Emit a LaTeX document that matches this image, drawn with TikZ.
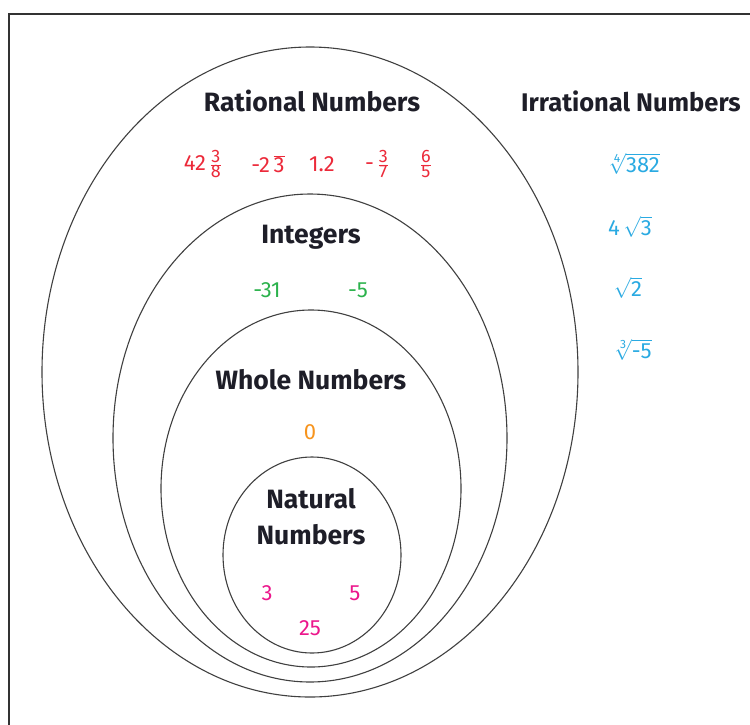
\documentclass[tikz,border=0pt]{standalone}
\usepackage{fontspec}
\setmainfont{Fira Sans}
\definecolor{redn}{HTML}{EC2A3A}
\definecolor{greenn}{HTML}{2BB24C}
\definecolor{orangen}{HTML}{F7941D}
\definecolor{pinkn}{HTML}{EC178C}
\definecolor{bluen}{HTML}{2AAAE2}
\definecolor{ink}{HTML}{1E1E28}
\newcommand{\fr}[2]{$\frac{\mbox{\fontsize{18pt}{18pt}\selectfont #1}}{\mbox{\fontsize{18pt}{18pt}\selectfont #2}}$}
\newcommand{\mb}[1]{\mbox{#1}}
\newcommand{\ix}[1]{\mbox{\fontsize{12pt}{12pt}\selectfont #1}}
\begin{document}
\begin{tikzpicture}[x=1pt,y=-1pt,
  setline/.style={draw=black!75, line width=1.1pt},
  title/.style={font=\fontsize{26.5pt}{28pt}\selectfont\bfseries, text=ink, inner sep=0pt},
  num/.style={font=\fontsize{22pt}{24pt}\selectfont, inner sep=0pt}]
\useasboundingbox (0,0) rectangle (750,724);
\fill[white] (0,0) rectangle (750,724);
% frame
\draw[black!80, line width=2.6pt] (760,14) -- (9,14) -- (9,740);
% sets
\draw[setline] (310,372) ellipse [x radius=268, y radius=325];
\draw[setline] (310,438) ellipse [x radius=197, y radius=244];
\draw[setline] (311,488.5) ellipse [x radius=150, y radius=178.5];
\draw[setline] (312,555) ellipse [x radius=89, y radius=98];
% titles
\node[title] (rat) at (312,101) {Rational Numbers};
\node[title, font=\fontsize{25.5pt}{28pt}\selectfont\bfseries] (irr) at (631,101) {Irrational Numbers};
\node[title] (int) at (311,237) {Integers};
\node[title] (who) at (311,380) {Whole Numbers};
\node[title, align=center, font=\fontsize{26.5pt}{36pt}\selectfont\bfseries] (nat) at (311,517) {Natural\\Numbers};
% rational numbers
\node[num, text=redn] (r1) at (203,164) {42\,\fr{3}{8}};
\node[num, text=redn] (r2) at (268,164) {-2\,$\overline{\mb{3}}$};
\node[num, text=redn] (r3) at (322,164) {1.2};
\node[num, text=redn] (r4) at (377,164) {-\,\fr{3}{7}};
\node[num, text=redn] (r5) at (426,164) {\fr{6}{5}};
% integers
\node[num, text=greenn] (i1) at (267,290) {-31};
\node[num, text=greenn] (i2) at (358,290) {-5};
% whole
\node[num, text=orangen] (w1) at (310,432) {0};
% natural
\node[num, text=pinkn] (n1) at (267,593) {3};
\node[num, text=pinkn] (n2) at (355,593) {5};
\node[num, text=pinkn] (n3) at (310,628) {25};
% irrational
\node[num, text=bluen] (q1) at (634,164) {$\sqrt[\ix{4}]{\mb{382}}$};
\node[num, text=bluen] (q2) at (630,227) {4\,$\sqrt{\mb{3}}$};
\node[num, text=bluen] (q3) at (628,288) {$\sqrt{\mb{2}}$};
\node[num, text=bluen] (q4) at (633,350) {$\sqrt[\ix{3}]{\mb{-5}}$};
\end{tikzpicture}
\end{document}
